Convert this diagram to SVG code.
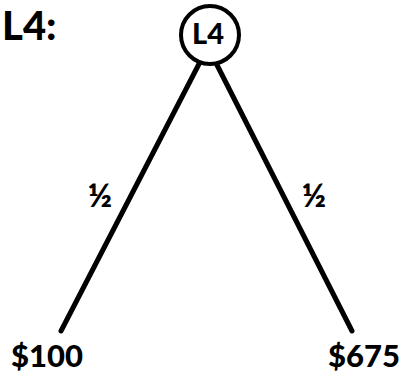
<svg xmlns="http://www.w3.org/2000/svg" width="402" height="373" viewBox="0 0 402 373">
<style>
text{font-family:"Lato","Liberation Sans",sans-serif;font-weight:900;fill:#000}
.edge{stroke:#000;stroke-width:5;stroke-linecap:round;fill:none}
</style>
<rect width="402" height="373" fill="#fff"/>
<text x="2" y="40" font-size="40">L4:</text>
<g id="connectors">
<line class="edge" x1="199.5" y1="63" x2="61" y2="331"/>
<line class="edge" x1="216" y1="63" x2="352" y2="331"/>
</g>
<g id="node-L4">
<circle cx="210" cy="35" r="29" fill="#fff" stroke="#000" stroke-width="4"/>
<text x="208" y="44" font-size="29" text-anchor="middle">L4</text>
</g>
<g id="label-left"><text x="100" y="207" font-size="33" text-anchor="middle">½</text></g>
<g id="label-right"><text x="314" y="207" font-size="33" text-anchor="middle">½</text></g>
<g id="leaf-100"><text x="47" y="367" font-size="31" text-anchor="middle">$100</text></g>
<g id="leaf-675"><text x="364" y="367" font-size="31" text-anchor="middle">$675</text></g>
</svg>
